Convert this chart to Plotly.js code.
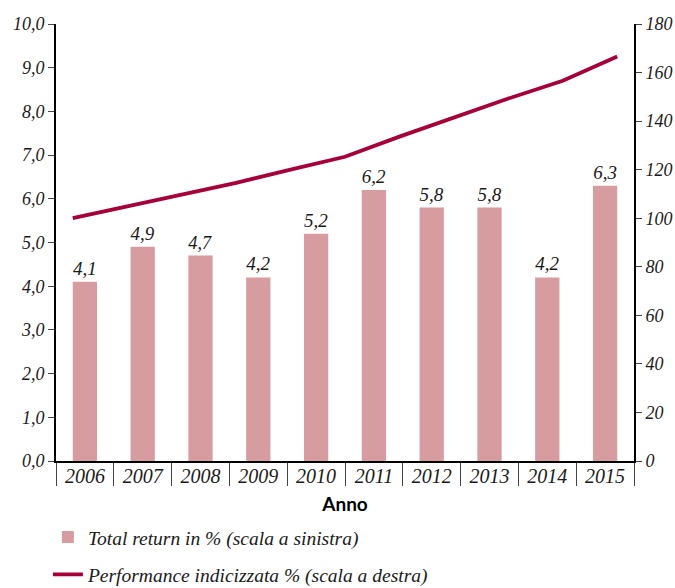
<!DOCTYPE html>
<html>
<head>
<meta charset="utf-8">
<script src="https://cdn.plot.ly/plotly-3.0.1.min.js"></script>
<style>html,body{margin:0;padding:0;background:#fff;}#chart{width:675px;height:588px;}</style>
</head>
<body>
<div id="chart"></div>
<script>
// ---- data ----
const years = ['2006','2007','2008','2009','2010','2011','2012','2013','2014','2015'];
const totalReturn = [4.1, 4.9, 4.7, 4.2, 5.2, 6.2, 5.8, 5.8, 4.2, 6.3];
const indexYears = [2005,2006,2007,2008,2009,2010,2011,2012,2013,2014,2015];
const indexPerf = [100, 104.8, 109.6, 114.6, 120.0, 125.3, 133.6, 141.6, 149.3, 156.6, 166.6];
const leftTicks = [0,1,2,3,4,5,6,7,8,9,10];
const rightTicks = [0,20,40,60,80,100,120,140,160,180];
const seriesNames = ['Total return in % (scala a sinistra)', 'Performance indicizzata % (scala a destra)'];

// ---- styles ----
const barColor = '#d69ca0';
const lineColor = '#a6003a';
const serif = 'Liberation Serif, Times New Roman, serif';
const barWidth = 0.42;

// the index line runs from the left edge of the first bar to the right edge of the last bar
const p0 = -barWidth / 2, p1 = (years.length - 1) + barWidth / 2;
const yFirst = indexYears[0], ySpan = indexYears[indexYears.length - 1] - indexYears[0];
const toX2 = p => yFirst + ySpan * (p - p0) / (p1 - p0);
const x2range = [toX2(-0.5), toX2(years.length - 0.5)];

const tickFont = {family: serif, size: 18, color: '#1a1a1a', style: 'italic'};
const xTickFont = {family: serif, size: 20, color: '#1a1a1a', style: 'italic'};

const traces = [
  {
    type: 'bar', x: years, y: totalReturn, name: seriesNames[0],
    marker: {color: barColor}, width: barWidth,
    text: totalReturn, texttemplate: '%{y:.1f}', textposition: 'outside',
    textfont: {family: serif, size: 19, color: '#1a1a1a', style: 'italic'},
    cliponaxis: false, legendgroup: 'a', hoverinfo: 'skip'
  },
  {
    type: 'scatter', mode: 'lines', x: indexYears, y: indexPerf, name: seriesNames[1],
    xaxis: 'x2', yaxis: 'y2',
    line: {color: lineColor, width: 3.8},
    legendgroup: 'b', hoverinfo: 'skip'
  }
];

const layout = {
  width: 675, height: 588,
  margin: {l: 56, r: 41, t: 24, b: 127, autoexpand: false},
  paper_bgcolor: '#fff', plot_bgcolor: '#fff',
  separators: ',.',
  showlegend: true,
  xaxis: {
    type: 'category', range: [-0.5, years.length - 0.5],
    showline: true, linecolor: '#000', linewidth: 2,
    ticks: 'outside', tickson: 'boundaries', ticklen: 23, tickwidth: 1, tickcolor: '#444',
    ticklabelstandoff: -4,
    tickfont: xTickFont, showgrid: false, zeroline: false, fixedrange: true,
    title: {text: 'Anno', font: {family: 'Lato, Open Sans, sans-serif', size: 19, color: '#000', weight: 'bold'}, standoff: 12}
  },
  xaxis2: {
    overlaying: 'x', anchor: 'y2', range: x2range, visible: false, fixedrange: true
  },
  yaxis: {
    range: [0, 10], tickvals: leftTicks, tickformat: '.1f',
    showline: true, linecolor: '#000', linewidth: 2,
    ticks: 'outside', ticklen: 6, tickwidth: 1, tickcolor: '#444',
    tickfont: tickFont, showgrid: false, zeroline: false, fixedrange: true
  },
  yaxis2: {
    overlaying: 'y', side: 'right', range: [0, 180], tickvals: rightTicks,
    showline: true, linecolor: '#000', linewidth: 2,
    ticks: 'outside', ticklen: 6, tickwidth: 1, tickcolor: '#444',
    tickfont: tickFont, showgrid: false, zeroline: false, fixedrange: true
  },
  legend: {
    orientation: 'v', x: -0.014, xanchor: 'left', y: -0.13, yanchor: 'top',
    traceorder: 'grouped', tracegroupgap: 9, itemwidth: 30,
    font: {family: serif, size: 19.5, color: '#1a1a1a', style: 'italic'},
    bgcolor: 'rgba(0,0,0,0)'
  }
};

Plotly.newPlot('chart', traces, layout, {displayModeBar: false, staticPlot: true});
</script>
</body>
</html>
